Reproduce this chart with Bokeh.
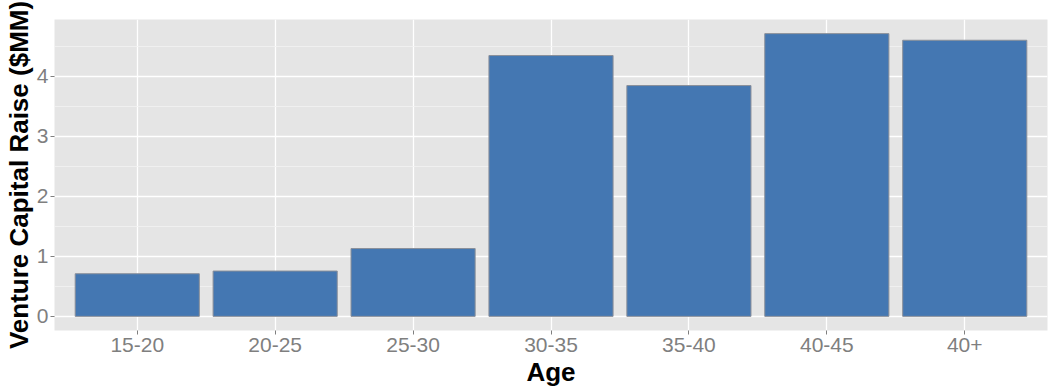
from bokeh.plotting import figure
from bokeh.models import Range1d, FactorRange, FixedTicker, ColumnDataSource
from bokeh.embed import file_html
from bokeh.resources import INLINE

ages = ["15-20", "20-25", "25-30", "30-35", "35-40", "40-45", "40+"]
raise_mm = [0.71, 0.755, 1.13, 4.345, 3.845, 4.71, 4.60]

src = ColumnDataSource(dict(age=ages, val=raise_mm))

ymax = max(raise_mm)
pad = 0.05 * ymax

p = figure(
    x_range=FactorRange(factors=ages, range_padding=0.2 / 7, range_padding_units="percent"),
    y_range=Range1d(-pad, ymax + pad),
    frame_width=993, frame_height=311,
    output_backend="svg", toolbar_location=None,
    min_border_left=0, min_border_right=9, min_border_top=19, min_border_bottom=0,
    background_fill_color="white", border_fill_color="white",
)
p.outline_line_color = None
p.background_fill_color = "#E5E5E5"

p.vbar(x="age", top="val", bottom=0, width=0.9, source=src,
       fill_color="#4477B2", line_color="#8A8F99", line_width=1)

# grids
p.xgrid.grid_line_color = "white"
p.xgrid.grid_line_width = 1.3
p.ygrid.ticker = FixedTicker(ticks=[0, 1, 2, 3, 4], minor_ticks=[0.5, 1.5, 2.5, 3.5, 4.5])
p.ygrid.grid_line_color = "white"
p.ygrid.grid_line_width = 1.3
p.ygrid.minor_grid_line_color = "#F2F2F2"
p.ygrid.minor_grid_line_width = 0.8

p.yaxis.ticker = FixedTicker(ticks=[0, 1, 2, 3, 4])
for ax in (p.xaxis[0], p.yaxis[0]):
    ax.axis_line_color = None
    ax.major_tick_line_color = "#7F7F7F"
    ax.major_tick_out = 4
    ax.major_tick_in = 0
    ax.minor_tick_line_color = None
    ax.major_label_text_color = "#7F7F7F"
    ax.major_label_text_font = "Liberation Sans"
    ax.major_label_text_font_size = "21px"
    ax.axis_label_text_font = "Liberation Sans"
    ax.axis_label_text_font_style = "bold"
    ax.axis_label_text_color = "black"

p.xaxis.axis_label_standoff = 2
p.xaxis.major_label_standoff = 3
p.yaxis.axis_label_standoff = 0
p.yaxis.major_label_standoff = 2

p.xaxis.axis_label = "Age"
p.xaxis.axis_label_text_font_size = "26px"
p.yaxis.axis_label = "Venture Capital Raise ($MM)"
p.yaxis.axis_label_text_font_size = "26px"

open("out.html", "w").write(file_html(p, INLINE))
